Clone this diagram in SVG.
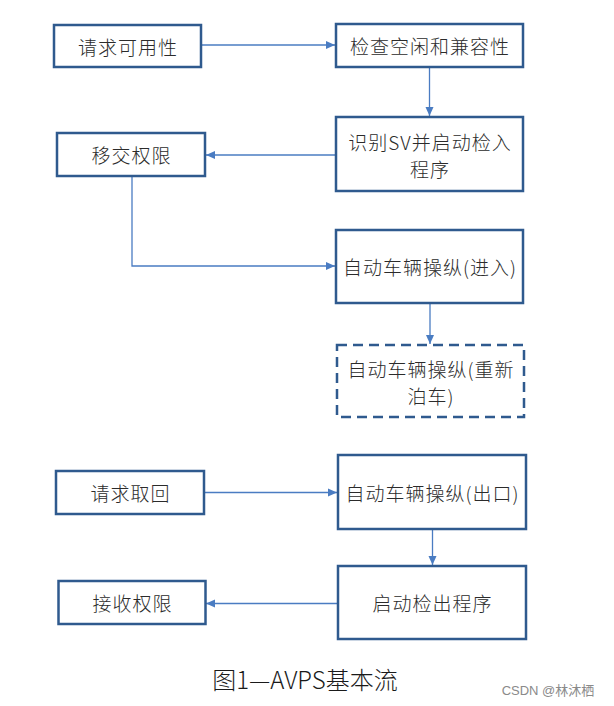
<svg xmlns="http://www.w3.org/2000/svg" width="614" height="706" viewBox="0 0 614 706">
<style>
.box{fill:#fff;stroke:#2F5A8E;stroke-width:2.5}
.dash{fill:#fff;stroke:#2F5A8E;stroke-width:2.5;stroke-dasharray:10,6}
.t{font-family:"Noto Sans CJK SC","Liberation Sans",sans-serif;font-size:19px;font-weight:300;letter-spacing:1px;fill:#2b2b2b;text-anchor:middle;dominant-baseline:central}
.c{fill:none;stroke:#4A7CC2;stroke-width:1.3}
</style>
<defs>
<marker id="ah" markerWidth="10" markerHeight="10" refX="9" refY="5" orient="auto" markerUnits="userSpaceOnUse">
<path d="M0,1 L9,5 L0,9 Z" fill="#4A7CC2"/>
</marker>
</defs>
<rect width="614" height="706" fill="#fff"/>
<g id="connectors">
<path class="c" d="M201,45 L335,45" marker-end="url(#ah)"/>
<path class="c" d="M429.5,67 L429.5,116" marker-end="url(#ah)"/>
<path class="c" d="M336,155 L206,155" marker-end="url(#ah)"/>
<path class="c" d="M132,176 L132,266 L335,266" marker-end="url(#ah)"/>
<path class="c" d="M430,303 L430,344" marker-end="url(#ah)"/>
<path class="c" d="M204,492.5 L337,492.5" marker-end="url(#ah)"/>
<path class="c" d="M432.5,529.5 L432.5,565" marker-end="url(#ah)"/>
<path class="c" d="M338,603.5 L206,603.5" marker-end="url(#ah)"/>
</g>
<g id="n1"><rect class="box" x="54" y="25" width="147" height="42"/><text class="t" x="128" y="46">请求可用性</text></g>
<g id="n2"><rect class="box" x="336" y="24" width="187" height="43"/><text class="t" x="430" y="45.5">检查空闲和兼容性</text></g>
<g id="n3"><rect class="box" x="336" y="117" width="187" height="74"/><text class="t" x="430" y="141">识别SV并启动检入</text><text class="t" x="430" y="168">程序</text></g>
<g id="n4"><rect class="box" x="57" y="133" width="148" height="43"/><text class="t" x="131.5" y="154.5">移交权限</text></g>
<g id="n5"><rect class="box" x="336" y="230" width="187" height="73"/><text class="t" x="430" y="266.5">自动车辆操纵(进入)</text></g>
<g id="n6"><rect class="dash" x="337" y="345" width="187" height="72"/><text class="t" x="431" y="368">自动车辆操纵(重新</text><text class="t" x="431" y="395">泊车)</text></g>
<g id="n7"><rect class="box" x="56" y="471" width="148" height="43"/><text class="t" x="130.5" y="492.5">请求取回</text></g>
<g id="n8"><rect class="box" x="338" y="455" width="188" height="74"/><text class="t" x="432.5" y="492.5">自动车辆操纵(出口)</text></g>
<g id="n9"><rect class="box" x="58.5" y="581" width="147" height="43"/><text class="t" x="132.5" y="602.5">接收权限</text></g>
<g id="n10"><rect class="box" x="338" y="566" width="188" height="73"/><text class="t" x="432.5" y="602">启动检出程序</text></g>
<text x="305" y="678" font-family="Noto Sans CJK SC,'Liberation Sans',sans-serif" font-size="24" font-weight="300" fill="#1a1a1a" text-anchor="middle" dominant-baseline="central">图1—AVPS基本流</text>
<text x="548" y="690" font-family="'Liberation Sans','Noto Sans CJK SC',sans-serif" font-size="13" fill="#8a8a8a" text-anchor="middle" dominant-baseline="central">CSDN @林沐栖</text>
</svg>
